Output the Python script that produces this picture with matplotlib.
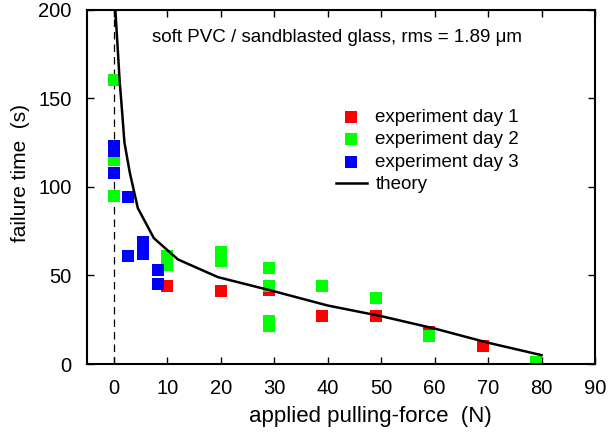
import matplotlib
matplotlib.use("Agg")
import matplotlib.pyplot as plt

plt.rcParams['font.family'] = ['Liberation Sans', 'DejaVu Sans']

# measured failure times (s) vs applied pulling force (N)
day1_force = [10, 20, 29, 39, 49, 59, 69]
day1_time = [44, 41, 42, 27, 27, 18, 10]

day2_force = [0, 0, 0, 10, 10, 20, 20, 29, 29, 29, 29, 39, 49, 59, 79]
day2_time = [160, 115, 95, 61, 56, 63, 58, 54, 44, 24.5, 21.5, 44, 37, 16, 1]

day3_force = [0, 0, 0, 2.7, 2.7, 5.4, 5.4, 8.2, 8.2]
day3_time = [123, 120, 108, 94, 61, 69, 62, 53, 45]

# model curve
theory_force = [0.3, 1.1, 1.6, 2, 3, 4.5, 7.5, 12, 19.5, 30, 40, 50, 60, 70, 80]
theory_time = [200, 160, 141, 125, 108, 88, 71, 59, 49, 41, 33, 27, 20, 12, 5]

fig = plt.figure(figsize=(6.11, 4.37), dpi=100)
ax = fig.add_axes([87 / 611, 1 - 364 / 437, 508 / 611, 354.5 / 437])

ax.axvline(0, color='black', lw=0.9, ls=(0, (6, 4)), zorder=1)

msize = 72
ax.scatter(day1_force, day1_time, marker='s', s=msize, color='#ff0000',
           linewidths=0, label='experiment day 1', zorder=2)
ax.scatter(day2_force, day2_time, marker='s', s=msize, color='#00ff00',
           linewidths=0, label='experiment day 2', zorder=2)
ax.scatter(day3_force, day3_time, marker='s', s=msize, color='#0000ff',
           linewidths=0, label='experiment day 3', zorder=2)
ax.plot(theory_force, theory_time, color='black', lw=1.8, label='theory', zorder=3)

ax.set_xlim(-5, 90)
ax.set_ylim(0, 200)
ax.set_xticks(range(0, 91, 10))
ax.set_yticks(range(0, 201, 50))
ax.tick_params(direction='in', top=True, right=True, length=5, width=1,
               labelsize=14.5, pad=11)
for s in ax.spines.values():
    s.set_linewidth(1.5)

ax.set_xlabel('applied pulling-force  (N)', fontsize=16)
ax.xaxis.set_label_coords(0.557, -0.118)
ax.set_ylabel('failure time  (s)', fontsize=15)
ax.yaxis.set_label_coords(-0.112, 0.54)

fig.text(152 / 611, 1 - 37 / 437, 'soft PVC / sandblasted glass, rms = 1.89 \u03bcm',
         fontsize=13.5, ha='left', va='center')

ax.legend(loc='upper left', bbox_to_anchor=(336 / 611, 1 - 108.5 / 437),
          bbox_transform=fig.transFigure, frameon=False, fontsize=13.5,
          borderpad=0, borderaxespad=0, handlelength=1.65, handletextpad=0.45,
          labelspacing=0.29, scatterpoints=1)

fig.savefig('out.png', dpi=100)
